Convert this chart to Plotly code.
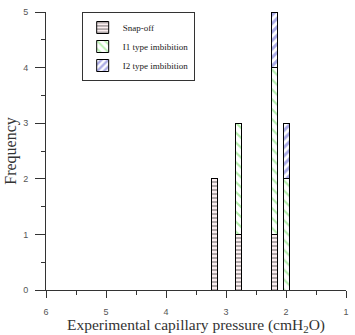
import plotly.graph_objects as go

positions = [3.2, 2.8, 2.2, 2.0]
snap_off = [2, 1, 1, 0]
i1_imbibition = [0, 2, 3, 2]
i2_imbibition = [0, 0, 1, 1]
series_names = ["Snap-off", "I1 type imbibition", "I2 type imbibition"]
x_ticks = [6, 5, 4, 3, 2, 1]
y_ticks = [0, 1, 2, 3, 4, 5]

fig = go.Figure()
fig.add_trace(go.Bar(
    x=positions, y=snap_off, name=series_names[0], width=0.1,
    marker=dict(color="white", line=dict(color="black", width=1),
                pattern=dict(shape="-", fgcolor="#222222", bgcolor="#fbeef0", size=4, solidity=0.35)),
))
fig.add_trace(go.Bar(
    x=positions, y=i1_imbibition, name=series_names[1], width=0.1,
    marker=dict(color="white", line=dict(color="black", width=1),
                pattern=dict(shape="\\", fgcolor="#66dd55", bgcolor="white", size=7, solidity=0.3)),
))
fig.add_trace(go.Bar(
    x=positions, y=i2_imbibition, name=series_names[2], width=0.1,
    marker=dict(color="white", line=dict(color="black", width=1),
                pattern=dict(shape="/", fgcolor="#5555cc", bgcolor="white", size=6, solidity=0.5)),
))

fig.update_layout(
    barmode="stack",
    width=355, height=335,
    margin=dict(l=46, r=6, t=12, b=45),
    paper_bgcolor="white", plot_bgcolor="white",
    showlegend=True,
    legend=dict(x=0.119, y=1.0, xanchor="left", yanchor="top",
                bordercolor="#333333", borderwidth=1, bgcolor="white",
                font=dict(family="Liberation Serif", size=9, color="#222"),
                traceorder="normal", tracegroupgap=0, itemwidth=30),
    font=dict(family="Liberation Sans", size=9, color="#444"),
)
fig.update_xaxes(
    range=[6, 1], tickvals=x_ticks, ticktext=[str(v) for v in x_ticks],
    showgrid=False, zeroline=False, showline=True, linecolor="#333", linewidth=1,
    ticks="outside", ticklen=7, tickcolor="#333", ticklabelstandoff=6,
    minor=dict(dtick=0.5, tick0=0, ticks="outside", ticklen=4, tickcolor="#333", showgrid=False),
    title=dict(text="Experimental capillary pressure (cmH<sub>2</sub>O)",
               font=dict(family="Liberation Serif", size=15.5, color="#333"), standoff=1),
    tickfont=dict(size=9, color="#555"),
)
fig.update_yaxes(
    range=[0, 5], tickvals=y_ticks, ticktext=[str(v) for v in y_ticks],
    showgrid=False, zeroline=False, showline=True, linecolor="#333", linewidth=1,
    ticks="outside", ticklen=10, tickcolor="#333", ticklabelstandoff=5,
    minor=dict(dtick=0.5, tick0=0, ticks="outside", ticklen=4, tickcolor="#333", showgrid=False),
    title=dict(text="Frequency", font=dict(family="Liberation Serif", size=16, color="#333"), standoff=2),
    tickfont=dict(size=9, color="#555"),
)
fig.write_html("out.html")
